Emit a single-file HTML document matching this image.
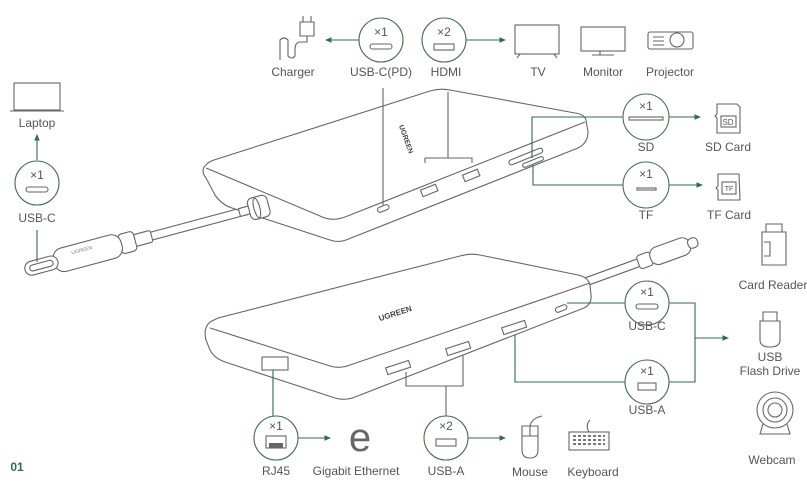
<!DOCTYPE html>
<html><head><meta charset="utf-8"><style>
html,body{margin:0;padding:0;background:#fff;}
svg{display:block;}
text{font-family:"Liberation Sans",sans-serif;fill:#555;text-anchor:middle;}
.g{stroke:#2f6d4b;fill:none;stroke-width:1.1;}
.k{stroke:#666;fill:none;stroke-width:1.1;}
.w{stroke:#666;fill:#fff;stroke-width:1.1;}
.c{stroke:#4a6e5a;fill:#fff;stroke-width:1.1;}
</style></head><body>
<svg width="807" height="493" viewBox="0 0 807 493" xmlns="http://www.w3.org/2000/svg" font-size="12">
<defs><marker id="a" markerWidth="6" markerHeight="6" refX="5" refY="3" orient="auto"><path d="M0,0.5 L6,3 L0,5.5z" fill="#2f6d4b"/></marker></defs>

<!-- top cable + plug -->
<g transform="translate(25,270) rotate(-15)">
<path class="w" d="M130,-4 L245,-4 L245,4 L130,4z"/>
<rect x="113" y="-6" width="18" height="12" rx="2" class="w"/>
<rect x="98" y="-10" width="16" height="20" rx="4" class="w"/>
<rect x="30" y="-12" width="70" height="24" rx="10" class="w"/>
<rect x="0" y="-7" width="34" height="14" rx="7" class="w"/>
<rect x="5" y="-3" width="24" height="6" rx="3" class="k"/>
<text x="60" y="-3" style="font-size:5px;fill:#888">UGREEN</text>
</g>

<!-- top hub -->
<path class="w" d="M206,165 Q200,170 206,178 L215,195 Q222,205 232,208 L330,240 Q338,243 346,240 L578,148 Q588,143 588,132 L586,120 Q584,114 575,113 L450,90 Q440,88 430,91 L214,160 Q208,162 206,165z"/>
<path class="k" d="M206,168 L320,216 Q332,222 345,217 L585,122"/>
<g transform="translate(25,270) rotate(-15)">
<rect x="222" y="-4" width="12" height="8" class="w"/>
<rect x="232" y="-11" width="20" height="22" rx="5" class="w"/>
<ellipse cx="240" cy="0" rx="3" ry="10" class="k"/>
</g>
<rect x="377" y="206" width="12" height="5" rx="2.5" class="k" transform="rotate(-22 383 208)"/>
<rect x="421" y="187" width="16" height="7" class="k" transform="rotate(-22 429 190)"/>
<rect x="463" y="172" width="16" height="7" class="k" transform="rotate(-22 471 175)"/>
<rect x="508" y="154" width="36" height="5" rx="2.5" class="k" transform="rotate(-22 526 157)"/>
<rect x="522" y="160" width="22" height="4" rx="2" class="k" transform="rotate(-22 533 162)"/>
<text x="404" y="140" transform="rotate(70 404 140)" style="font-size:7px;font-weight:bold;fill:#444">UGREEN</text>

<!-- bottom cable -->
<g transform="translate(580,284) rotate(-20)">
<path class="w" d="M0,-4 L65,-4 L65,4 L0,4z"/>
<rect x="62" y="-7" width="14" height="14" rx="3" class="w"/>
<rect x="75" y="-9" width="42" height="18" rx="8" class="w"/>
<rect x="115" y="-5" width="10" height="10" rx="4" class="w"/>
</g>

<!-- bottom hub -->
<path class="w" d="M210,322 Q203,328 206,340 L210,350 Q214,358 225,362 L335,398 Q345,401 355,397 L584,308 Q592,304 591,295 L590,285 Q588,277 578,275 L480,255 Q470,253 460,256 L218,318z"/>
<path class="k" d="M210,328 L330,366 Q340,369 350,365 L590,283"/>
<text x="396" y="316" transform="rotate(-18 396 316)" style="font-size:8px;font-weight:bold;fill:#444">UGREEN</text>
<rect x="262" y="357" width="26" height="13" class="k"/>
<rect x="386" y="364" width="24" height="7" class="k" transform="rotate(-18 398 367)"/>
<rect x="446" y="345" width="24" height="7" class="k" transform="rotate(-18 458 348)"/>
<rect x="502" y="324" width="24" height="7" class="k" transform="rotate(-18 514 327)"/>
<rect x="555" y="306" width="12" height="5" rx="2.5" class="k" transform="rotate(-22 561 308)"/>

<!-- connectors top -->
<line class="g" x1="359" y1="40" x2="326" y2="40" marker-end="url(#a)"/>
<line class="g" x1="466" y1="40" x2="505" y2="40" marker-end="url(#a)"/>
<line class="k" x1="383" y1="88" x2="383" y2="205" stroke="#888"/>
<path class="k" d="M448,92 L448,158 M425,163 L425,158 L472,158 L472,163" stroke="#888"/>
<line class="g" x1="37" y1="160" x2="37" y2="135" marker-end="url(#a)"/>
<line class="g" x1="37" y1="230" x2="37" y2="262"/>
<path class="g" d="M532,158 L532,117 L623,117 M669,117 L700,117" marker-end="url(#a)"/>
<path class="g" d="M533,165 L533,185 L623,185"/>
<line class="g" x1="669" y1="185" x2="702" y2="185" marker-end="url(#a)"/>
<!-- connectors bottom -->
<path class="g" d="M567,303 L625,303 M669,303 L695,303 L695,382 L669,382 M625,382 L515,382 L515,335"/>
<line class="g" x1="695" y1="338" x2="728" y2="338" marker-end="url(#a)"/>
<path class="g" d="M273,370 L273,416"/>
<line class="g" x1="298" y1="438" x2="330" y2="438" marker-end="url(#a)"/>
<path class="k" d="M406,372 L406,386 L463,386 L463,355 M446,386 L446,416" stroke="#888"/>
<line class="g" x1="468" y1="438" x2="505" y2="438" marker-end="url(#a)"/>

<!-- circles -->
<g>
<circle cx="381" cy="40" r="22" class="c"/><text x="381" y="36">×1</text><rect x="370" y="44" width="22" height="5" rx="2.5" class="k"/>
<circle cx="444" cy="40" r="22" class="c"/><text x="444" y="36">×2</text><rect x="434" y="44" width="20" height="6" class="k"/>
<circle cx="37" cy="183" r="22" class="c"/><text x="37" y="179">×1</text><rect x="26" y="187" width="22" height="5" rx="2.5" class="k"/>
<circle cx="646" cy="117" r="23" class="c"/><text x="646" y="110">×1</text><rect x="629" y="117" width="34" height="3" class="k"/>
<circle cx="646" cy="185" r="23" class="c"/><text x="646" y="178">×1</text><rect x="637" y="188" width="19" height="2" class="k"/>
<circle cx="647" cy="303" r="22" class="c"/><text x="647" y="296">×1</text><rect x="636" y="304" width="22" height="5" rx="2.5" class="k"/>
<circle cx="647" cy="382" r="22" class="c"/><text x="647" y="375">×1</text><rect x="638" y="383" width="18" height="7" class="k"/>
<circle cx="276" cy="438" r="22" class="c"/><text x="276" y="430">×1</text><rect x="266" y="436" width="20" height="12" class="k"/><rect x="269" y="443" width="14" height="5" fill="#666"/>
<circle cx="446" cy="438" r="22" class="c"/><text x="446" y="430">×2</text><rect x="436" y="439" width="20" height="7" class="k"/>
</g>

<!-- icons -->
<path class="k" d="M300,22 L314,22 L314,36 L300,36z M303,22 L303,16 M311,22 L311,16 M307,36 L307,42 L300,42 Q295,42 295,50 L295,56 Q292,60 288,56 L288,40 Q284,36 280,40 L280,60"/>
<rect x="14" y="83" width="46" height="27" class="k"/><line class="k" x1="10" y1="111" x2="64" y2="111"/>
<rect x="515" y="25" width="44" height="29" class="k"/><path class="k" d="M520,54 L517,58 M554,54 L557,58"/>
<rect x="581" y="27" width="44" height="24" class="k"/><path class="k" d="M600,51 L600,55 M592,55 L614,55"/>
<rect x="648" y="32" width="45" height="17" rx="2" class="k"/><circle cx="677" cy="40" r="7" class="k"/><path class="k" d="M653,37 L664,37 M653,41 L664,41 M653,45 L664,45"/>
<path class="k" d="M717,104 L737,104 L740,107 L740,133 L717,133 L717,118 L715,116 L717,114z"/><rect x="721" y="116" width="15" height="11" class="k"/><text x="728" y="125" style="font-size:8px">SD</text>
<path class="k" d="M718,174 L739,174 L740,200 L718,200 L718,190 L716,188 L718,186z"/><rect x="722" y="182" width="14" height="12" class="k"/><text x="729" y="191" style="font-size:7px">TF</text>
<path class="k" d="M766,224 L782,224 L782,232 L766,232z M762,232 L786,232 L786,265 L762,265z M764,242 L770,242 L770,256 L764,256"/>
<path class="k" d="M763,312 L777,312 L777,321 L763,321z M760,321 L780,321 L780,340 Q780,347 770,347 Q760,347 760,340z"/>
<circle cx="775" cy="410" r="18" class="k"/><circle cx="775" cy="410" r="12" class="k"/><circle cx="775" cy="410" r="7" class="k"/><path class="k" d="M763,424 L760,434 L790,434 L787,424"/>
<text x="360" y="451" style="font-size:40px;fill:#666">e</text>
<path class="k" d="M522,426 L538,426 L538,450 Q538,458 530,458 Q522,458 522,450z M522,436 L538,436 M530,426 L530,436 M530,426 Q532,418 542,416"/>
<rect x="569" y="432" width="40" height="18" class="k"/><path d="M573,436h32M573,440h32M573,444h32" stroke="#777" stroke-width="2" stroke-dasharray="3,2"/><path class="k" d="M589,432 Q585,425 590,420"/>

<!-- labels -->
<text x="293" y="76">Charger</text>
<text x="381" y="76">USB-C(PD)</text>
<text x="446" y="76">HDMI</text>
<text x="538" y="76">TV</text>
<text x="603" y="76">Monitor</text>
<text x="670" y="76">Projector</text>
<text x="37" y="127">Laptop</text>
<text x="37" y="222">USB-C</text>
<text x="646" y="151">SD</text>
<text x="728" y="151">SD Card</text>
<text x="646" y="219">TF</text>
<text x="729" y="219">TF Card</text>
<text x="773" y="289">Card Reader</text>
<text x="647" y="330">USB-C</text>
<text x="647" y="414">USB-A</text>
<text x="770" y="361">USB</text>
<text x="770" y="375">Flash Drive</text>
<text x="772" y="464">Webcam</text>
<text x="276" y="475">RJ45</text>
<text x="356" y="475">Gigabit Ethernet</text>
<text x="446" y="475">USB-A</text>
<text x="530" y="476">Mouse</text>
<text x="593" y="476">Keyboard</text>
<text x="17" y="471" style="fill:#2f6d4b;font-weight:bold">01</text>
</svg>
</body></html>
